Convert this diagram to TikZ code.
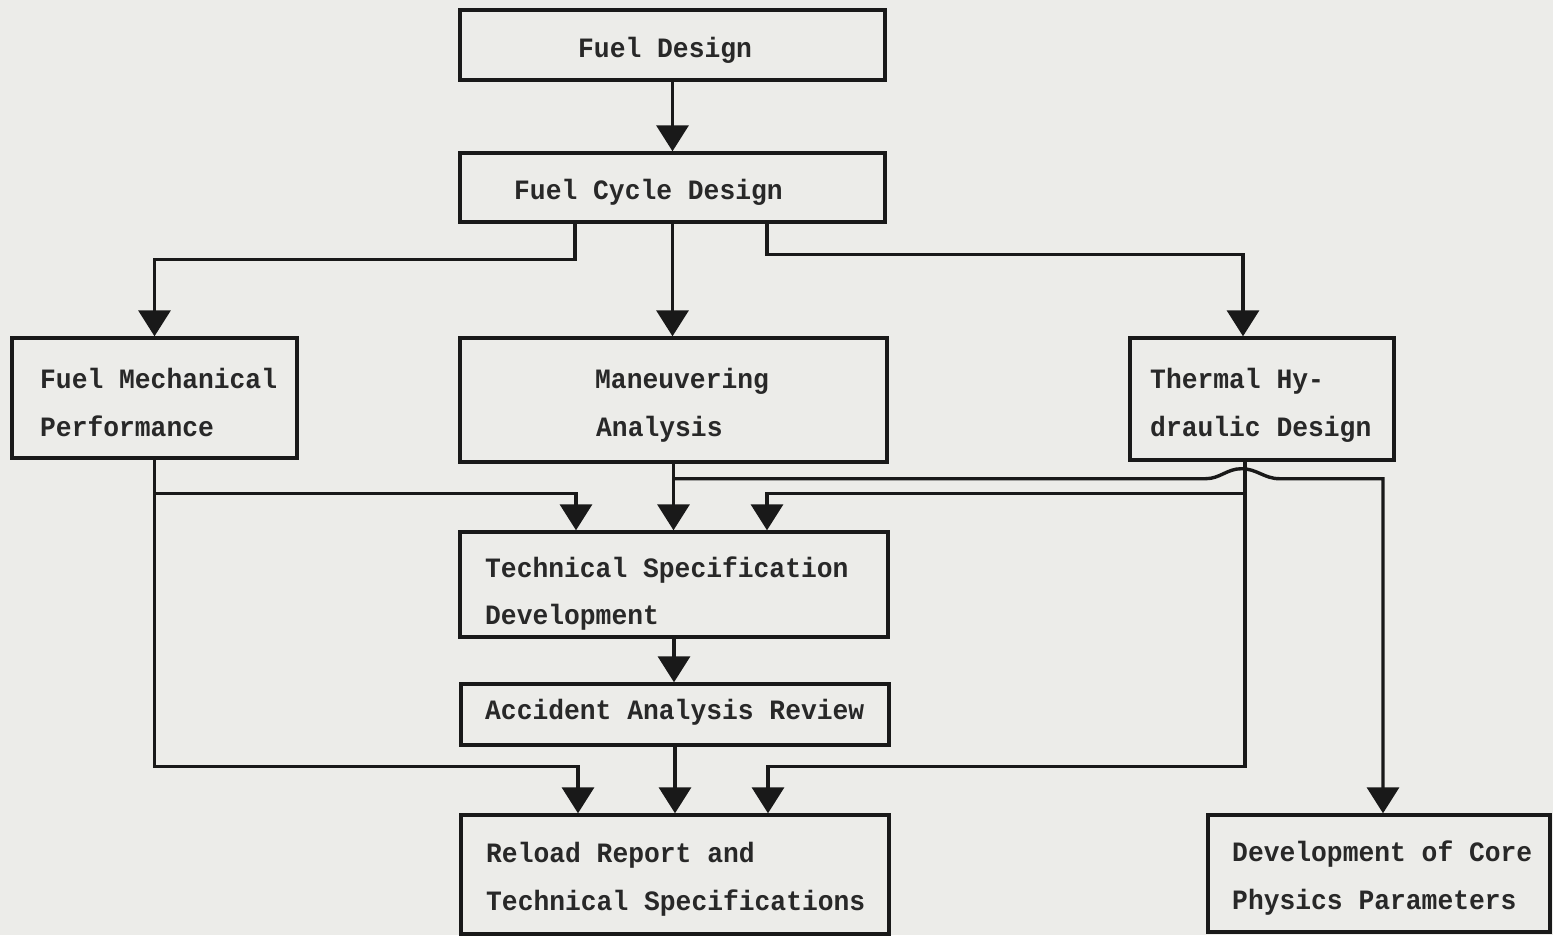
\documentclass[tikz,border=0pt]{standalone}
\usepackage{fontspec}
\setmonofont[FakeStretch=0.94]{Liberation Mono}
\usetikzlibrary{arrows.meta,calc}
\definecolor{paper}{RGB}{236,236,233}
\definecolor{ink}{RGB}{25,25,25}
\definecolor{txt}{RGB}{40,40,40}
\tikzset{
  box/.style={draw=ink, line width=3.4pt, rectangle, inner sep=0pt},
  lbl/.style={anchor=base west, inner sep=0pt, text=txt, font=\ttfamily\bfseries\fontsize{28}{30}\selectfont},
  conn/.style={draw=ink, line width=3.4pt},
  arr/.style={conn, -{Triangle[width=32pt,length=26pt]}},
}
\begin{document}
\begin{tikzpicture}[x=1pt,y=-1pt]
\fill[paper] (0,0) rectangle (1553,935);
\useasboundingbox (0,0) rectangle (1553,935);

% boxes
\node[box, minimum width=425pt, minimum height=70pt] (fd) at (672.5,45) {};
\node[box, minimum width=425pt, minimum height=69pt] (fcd) at (672.5,187.5) {};
\node[box, minimum width=285pt, minimum height=120pt] (fmp) at (154.5,398) {};
\node[box, minimum width=427pt, minimum height=124pt] (ma) at (673.5,400) {};
\node[box, minimum width=264pt, minimum height=122pt] (th) at (1262,399) {};
\node[box, minimum width=428pt, minimum height=105pt] (tsd) at (674,584.5) {};
\node[box, minimum width=428pt, minimum height=61pt] (aar) at (675,714.5) {};
\node[box, minimum width=428pt, minimum height=119pt] (rr) at (675,874.5) {};
\node[box, minimum width=342pt, minimum height=117pt] (cp) at (1379,873.5) {};

% labels
\node[lbl] (tfd) at (578,57) {Fuel Design};
\node[lbl] (tfcd) at (514,199) {Fuel Cycle Design};
\node[lbl] (tfmp1) at (40,388) {Fuel Mechanical};
\node[lbl] (tfmp2) at (40,436) {Performance};
\node[lbl] (tma1) at (595,388) {Maneuvering};
\node[lbl] (tma2) at (596,436) {Analysis};
\node[lbl] (tth1) at (1150,388) {Thermal Hy-};
\node[lbl] (tth2) at (1150,436) {draulic Design};
\node[lbl] (ttsd1) at (485,577) {Technical Specification};
\node[lbl] (ttsd2) at (485,624) {Development};
\node[lbl] (taar) at (485,719) {Accident Analysis Review};
\node[lbl] (trr1) at (486,862) {Reload Report and};
\node[lbl] (trr2) at (486,910) {Technical Specifications};
\node[lbl] (tcp1) at (1232,861) {Development of Core};
\node[lbl] (tcp2) at (1232,909) {Physics Parameters};

% connectors
\draw[arr] (fd.south) -- (fd.south |- fcd.north);
\draw[arr] ([xshift=-97.5pt]fcd.south) -- ++(0,36) -| (fmp.north);
\draw[arr] (fcd.south) -- (fcd.south |- ma.north);
\draw[arr] ([xshift=94.5pt]fcd.south) -- ++(0,31) -| ([xshift=-19pt]th.north);

\draw[arr] (fmp.south) -- ++(0,34) -| ([xshift=-98pt]tsd.north);
\draw[arr] (fmp.south) -- ++(0,307) -| ([xshift=-97pt]rr.north);

\draw[arr] (ma.south) -- (ma.south |- tsd.north);
\draw[arr] (ma.south) ++(0,15) -- ++(532,0) to[out=0,in=180] ++(36,-10) to[out=0,in=180] ++(38,10) -| ([xshift=4pt]cp.north);

\draw[arr] ([xshift=-17pt]th.south) -- ++(0,32) -| ([xshift=93pt]tsd.north);
\draw[arr] ([xshift=-17pt]th.south) -- ++(0,305) -| ([xshift=93pt]rr.north);

\draw[arr] (tsd.south) -- (tsd.south |- aar.north);
\draw[arr] (aar.south) -- (aar.south |- rr.north);
\end{tikzpicture}
\end{document}
